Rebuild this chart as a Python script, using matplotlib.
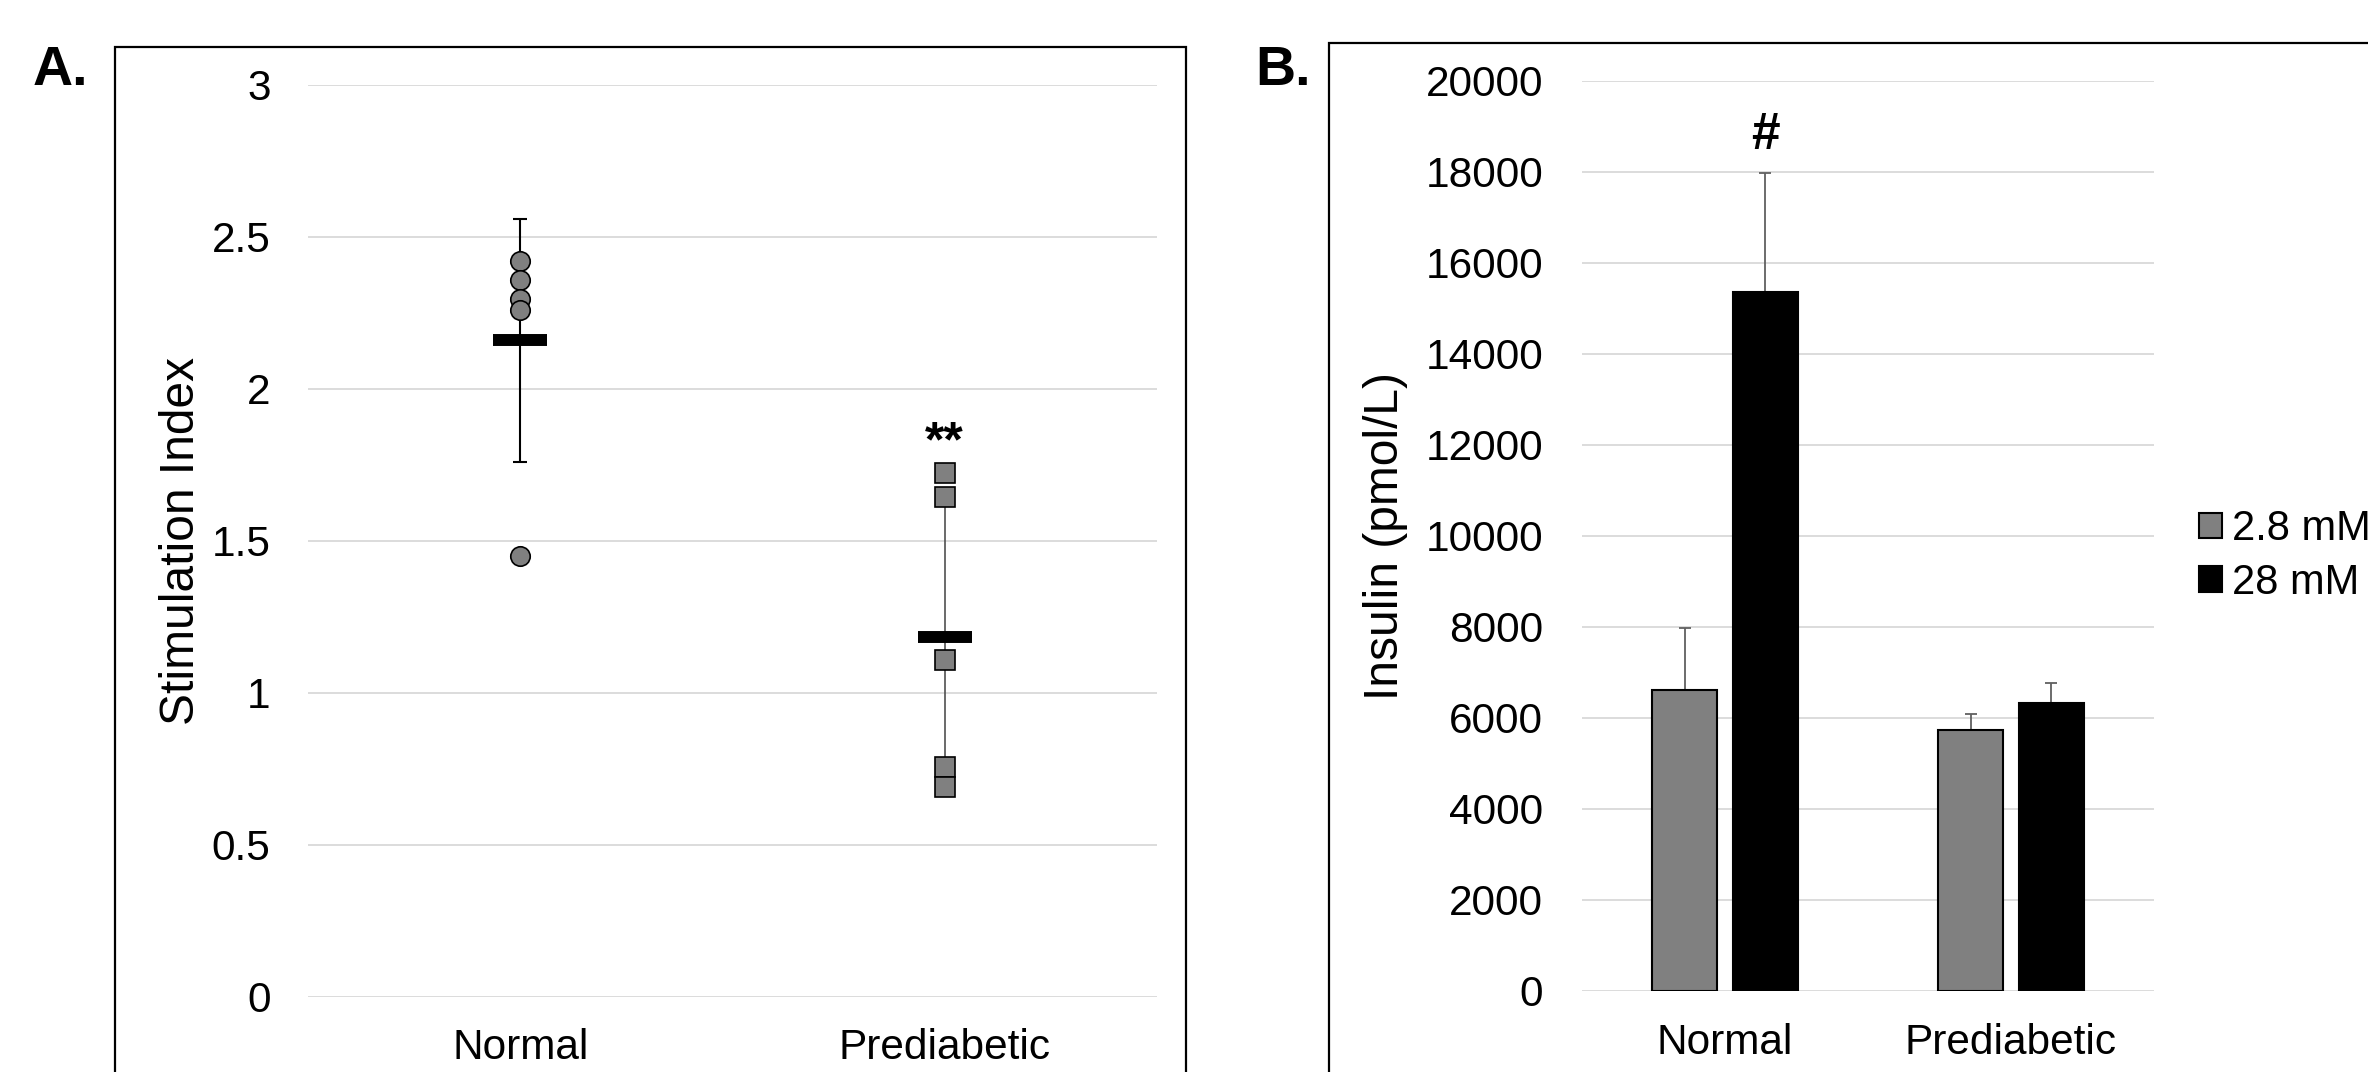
import matplotlib
matplotlib.use("Agg")
import matplotlib.pyplot as plt
from matplotlib.patches import Rectangle
import numpy as np

plt.rcParams['font.family'] = ['Liberation Sans', 'DejaVu Sans']

# ---- Panel A data ----
groups_a = ["Normal", "Prediabetic"]
normal_si = [2.42, 2.36, 2.295, 2.26, 1.45]
prediab_si = [1.725, 1.645, 1.11, 0.755, 0.69]
mean_si = [2.16, 1.185]
err_si = [0.40, 0.48]
yticks_a = [0, 0.5, 1, 1.5, 2, 2.5, 3]
yticklabels_a = ["0", "0.5", "1", "1.5", "2", "2.5", "3"]

# ---- Panel B data ----
groups_b = ["Normal", "Prediabetic"]
series_b = ["2.8 mM", "28 mM"]
low_glucose = [6610, 5730]
high_glucose = [15360, 6320]
low_err = [1360, 350]
high_err = [2610, 450]
yticks_b = list(range(0, 20001, 2000))

W, H = 2368, 1072
fig = plt.figure(figsize=(W / 100, H / 100), dpi=100)

def fx(px):
    return px / W

def fy(py):
    return 1 - py / H

grid_c = '#d9d9d9'
tick_fs = 30.5
label_fs = 34.5

# outer frames
fig.add_artist(Rectangle((fx(115), fy(1200)), fx(1186) - fx(115), fy(47) - fy(1200),
                         transform=fig.transFigure, fill=False, ec='black', lw=1.6))
fig.add_artist(Rectangle((fx(1329), fy(1200)), fx(2500) - fx(1329), fy(43) - fy(1200),
                         transform=fig.transFigure, fill=False, ec='black', lw=1.6))

fig.text(fx(33), fy(85), "A.", fontsize=40, fontweight='bold', ha='left', va='baseline')
fig.text(fx(1255), fy(85), "B.", fontsize=40, fontweight='bold', ha='left', va='baseline')

# ---- Panel A ----
axA = fig.add_axes([fx(308), fy(997), fx(1157) - fx(308), fy(85) - fy(997)])
axA.set_xlim(-0.5, 1.5)
axA.set_ylim(0, 3)
for s in axA.spines.values():
    s.set_visible(False)
axA.set_yticks(yticks_a)
axA.set_yticklabels(yticklabels_a)
axA.set_xticks([0, 1])
axA.set_xticklabels(groups_a)
axA.tick_params(axis='both', length=0, labelsize=tick_fs)
axA.tick_params(axis='y', pad=27)
axA.tick_params(axis='x', pad=22)
axA.yaxis.grid(True, color=grid_c, lw=1.3)
axA.set_axisbelow(True)
ylA = axA.set_ylabel("Stimulation Index", fontsize=label_fs)
ylA.set_va('center')
axA.yaxis.set_label_coords((181 - 308) / 849, 0.5)

# error bars
axA.errorbar([0], [mean_si[0]], yerr=[err_si[0]], fmt='none', ecolor='black',
             elinewidth=1.5, capsize=4.7, capthick=1.5, zorder=2)
axA.errorbar([1], [mean_si[1]], yerr=[err_si[1]], fmt='none', ecolor='#505050',
             elinewidth=1.2, capsize=0, zorder=2)
axA.plot([0] * len(normal_si), normal_si, 'o', ms=14, mfc='#808080', mec='black',
         mew=1.2, ls='none', zorder=3)
axA.plot([1] * len(prediab_si), prediab_si, 's', ms=14.3, mfc='#808080', mec='black',
         mew=1.2, ls='none', zorder=3)
axA.plot([0, 1], mean_si, '_', ms=39, mew=8.6, color='black', ls='none', zorder=4)
axA.text(1, 1.82, "**", fontsize=36, fontweight='bold', ha='center', va='center')

# ---- Panel B ----
axB = fig.add_axes([fx(1582), fy(990.7), fx(2154) - fx(1582), fy(80.7) - fy(990.7)])
axB.set_xlim(-0.5, 1.5)
axB.set_ylim(0, 20000)
for s in axB.spines.values():
    s.set_visible(False)
axB.set_yticks(yticks_b)
axB.set_yticklabels([str(v) for v in yticks_b])
x = np.arange(len(groups_b))
axB.set_xticks(x)
axB.set_xticklabels(groups_b)
axB.tick_params(axis='both', length=0, labelsize=tick_fs)
axB.tick_params(axis='y', pad=28)
axB.tick_params(axis='x', pad=23)
axB.yaxis.grid(True, color=grid_c, lw=1.3)
axB.set_axisbelow(True)
ylB = axB.set_ylabel("Insulin (pmol/L)", fontsize=label_fs)
ylB.set_va('center')
axB.yaxis.set_label_coords((1385 - 1582) / 572, 0.5)

bw = 0.227
off = 0.1416
b1 = axB.bar(x - off, low_glucose, width=bw, color='#808080', edgecolor='black',
             lw=1.5, label=series_b[0], zorder=2)
b2 = axB.bar(x + off, high_glucose, width=bw, color='black', edgecolor='black',
             lw=1.5, label=series_b[1], zorder=2)
axB.errorbar(x - off, low_glucose, yerr=[np.zeros(2), low_err], fmt='none',
             ecolor='#606060', elinewidth=1.3, capsize=4.3, capthick=1.3, zorder=1)
axB.errorbar(x + off, high_glucose, yerr=[np.zeros(2), high_err], fmt='none',
             ecolor='#606060', elinewidth=1.3, capsize=4.3, capthick=1.3, zorder=1)
axB.text(0 + off, 18800, "#", fontsize=37, fontweight='bold', ha='center', va='center')

leg = axB.legend(handles=[b1, b2], loc='upper left', frameon=False, fontsize=30,
                 bbox_to_anchor=(fx(2199), fy(509)), bbox_transform=fig.transFigure,
                 borderpad=0, borderaxespad=0, handlelength=0.55, handleheight=0.55,
                 handletextpad=0.24, labelspacing=0.33)

fig.savefig("out.png", dpi=100)
